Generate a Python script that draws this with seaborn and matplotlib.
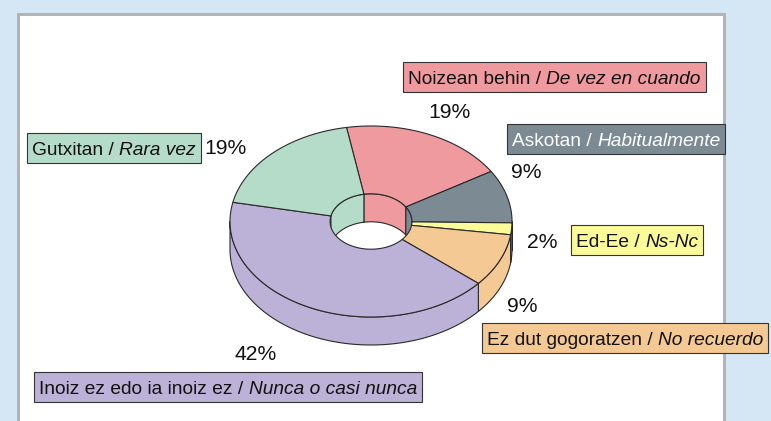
import os
import numpy as np
import matplotlib
matplotlib.use("Agg")
import matplotlib.pyplot as plt
from matplotlib.patches import Rectangle, Polygon
from matplotlib import font_manager as fm
import seaborn as sns

# ---------------- data ----------------
labels_eu = ["Noizean behin", "Askotan", "Ed-Ee", "Ez dut gogoratzen",
             "Inoiz ez edo ia inoiz ez", "Gutxitan"]
labels_es = ["De vez en cuando", "Habitualmente", "Ns-Nc", "No recuerdo",
             "Nunca o casi nunca", "Rara vez"]
percentages = [19, 9, 2, 9, 42, 19]
pct_text = ["19%", "9%", "2%", "9%", "42%", "19%"]
colors_hex = ["#ef9a9f", "#7c8a94", "#fcfb9a", "#f5c993", "#bcb1d7", "#b5dcc8"]
text_colors = ["#111111", "#ffffff", "#111111", "#111111", "#111111", "#111111"]

# ---------------- layout (pixels) ----------------
W, H = 771, 421
BG = "#d5e6f4"
cx, cy = 371.0, 221.5          # centre of the top ellipse
A, B = 141.0, 95.5             # outer semi-axes
RI = 0.29                      # inner radius fraction
DEPTH = 28.0                   # thickness of the donut
START = 100.0                  # start angle (deg), clockwise
EDGE = "#2a2a2a"
box_pos = [(403, 62), (507, 124), (571, 225), (482, 323), (34, 372), (27, 133)]
box_h = 30
pct_pos = [(450, 113), (526, 173), (542, 243), (522, 306), (256, 354), (226, 148)]

sns.set_theme(style="white")
palette = sns.color_palette(colors_hex)

# ---------------- fonts ----------------
def pick_font():
    entries = fm.fontManager.ttflist
    # a narrow sans family if one is installed
    for fam in ["Liberation Sans Narrow", "Arial Narrow"]:
        regs = [f for f in entries if f.name == fam and f.style == "normal" and f.weight in (400, "normal", "regular")]
        itas = [f for f in entries if f.name == fam and f.style in ("italic", "oblique") and f.weight in (400, "normal", "regular")]
        if regs and itas:
            return fm.FontProperties(fname=regs[0].fname), fm.FontProperties(fname=itas[0].fname)
    low = {os.path.basename(f.fname).lower(): f.fname for f in entries}
    for reg, ita in [("liberationsansnarrow-regular.ttf", "liberationsansnarrow-italic.ttf"),
                     ("arialn.ttf", "arialni.ttf")]:
        if reg in low and ita in low:
            return fm.FontProperties(fname=low[reg]), fm.FontProperties(fname=low[ita])
    return (fm.FontProperties(family="Liberation Sans", style="normal"),
            fm.FontProperties(family="Liberation Sans", style="italic"))

fp_reg, fp_ita = pick_font()

fig = plt.figure(figsize=(W / 100, H / 100), dpi=100, facecolor=BG)
ax = fig.add_axes([0, 0, 1, 1])
ax.set_xlim(0, W)
ax.set_ylim(H, 0)
ax.axis("off")
ax.set_facecolor(BG)
renderer = fig.canvas.get_renderer()
inv = ax.transData.inverted()


def text_width(s, fp, size):
    p = fp.copy()
    p.set_size(size)
    t = ax.text(0, 0, s, fontproperties=p)
    bb = t.get_window_extent(renderer)
    t.remove()
    return bb.width


# calibrate font sizes to the reference widths
w10 = (text_width("Noizean behin /", fp_reg, 10) + text_width("n n", fp_reg, 10)
       - text_width("nn", fp_reg, 10) + text_width("De vez en cuando", fp_ita, 10))
FS_BOX = 10 * 293.0 / w10
FS_PCT = 10 * 42.0 / text_width("19%", fp_reg, 10)

fpr = fp_reg.copy(); fpr.set_size(FS_BOX)
fpi = fp_ita.copy(); fpi.set_size(FS_BOX)
fpp = fp_reg.copy(); fpp.set_size(FS_PCT)
space_px = text_width("n n", fp_reg, FS_BOX) - text_width("nn", fp_reg, FS_BOX)
cap_px = 0.716 * FS_BOX * 100 / 72

# ---------------- panel ----------------
ax.add_patch(Rectangle((17.5, 13.5), 706, 440, facecolor="white",
                       edgecolor="#b3b3b3", lw=3 * 0.72, zorder=0))

# ---------------- donut geometry ----------------
fr = np.array(percentages, dtype=float) / np.sum(percentages)
ends = START - 360 * np.cumsum(fr)
starts = ends + 360 * fr


def arc(t_from, t_to, r, dy=0.0, n=80):
    t = np.radians(np.linspace(t_from, t_to, n))
    return cx + A * r * np.cos(t), cy - B * r * np.sin(t) + dy


def wall(t_hi, t_lo, r, col):
    x1, y1 = arc(t_hi, t_lo, r)
    x2, y2 = arc(t_lo, t_hi, r, DEPTH)
    ax.add_patch(Polygon(np.column_stack([np.r_[x1, x2], np.r_[y1, y2]]),
                         closed=True, facecolor=col, edgecolor=EDGE, lw=0.8,
                         zorder=2, joinstyle="round"))


for s, e, col in zip(starts, ends, palette):
    for k in (-1, 0, 1):
        # inner back wall (visible through the hole)
        lo, hi = max(e, 360 * k), min(s, 180 + 360 * k)
        if hi > lo:
            wall(hi, lo, RI, col)
for s, e, col in zip(starts, ends, palette):
    for k in (-1, 0, 1):
        # outer front wall
        lo, hi = max(e, -180 + 360 * k), min(s, 360 * k)
        if hi > lo:
            wall(hi, lo, 1.0, col)

for s, e, col in zip(starts, ends, palette):
    xo, yo = arc(s, e, 1.0)
    xi, yi = arc(e, s, RI)
    ax.add_patch(Polygon(np.column_stack([np.r_[xo, xi], np.r_[yo, yi]]),
                         closed=True, facecolor=col, edgecolor=EDGE, lw=0.8,
                         zorder=3, joinstyle="round"))

# ---------------- labels ----------------
for (bx, by), reg, ita, col, tc in zip(box_pos, labels_eu, labels_es, palette, text_colors):
    pad = 5
    base = by + box_h / 2 + cap_px / 2
    t1 = ax.text(bx + pad, base, reg + " /", fontproperties=fpr, color=tc,
                 ha="left", va="baseline", zorder=6)
    r1 = inv.transform((t1.get_window_extent(renderer).x1, 0))[0]
    t2 = ax.text(r1 + space_px, base, ita, fontproperties=fpi, color=tc,
                 ha="left", va="baseline", zorder=6)
    r2 = inv.transform((t2.get_window_extent(renderer).x1, 0))[0]
    ax.add_patch(Rectangle((bx, by), r2 + pad - bx, box_h, facecolor=col,
                           edgecolor="#333333", lw=0.8, zorder=5))

for (px, py), t in zip(pct_pos, pct_text):
    ax.text(px, py, t, fontproperties=fpp, color="#111111", ha="center",
            va="center", zorder=6)

fig.savefig("out.png", dpi=100, facecolor=BG)
